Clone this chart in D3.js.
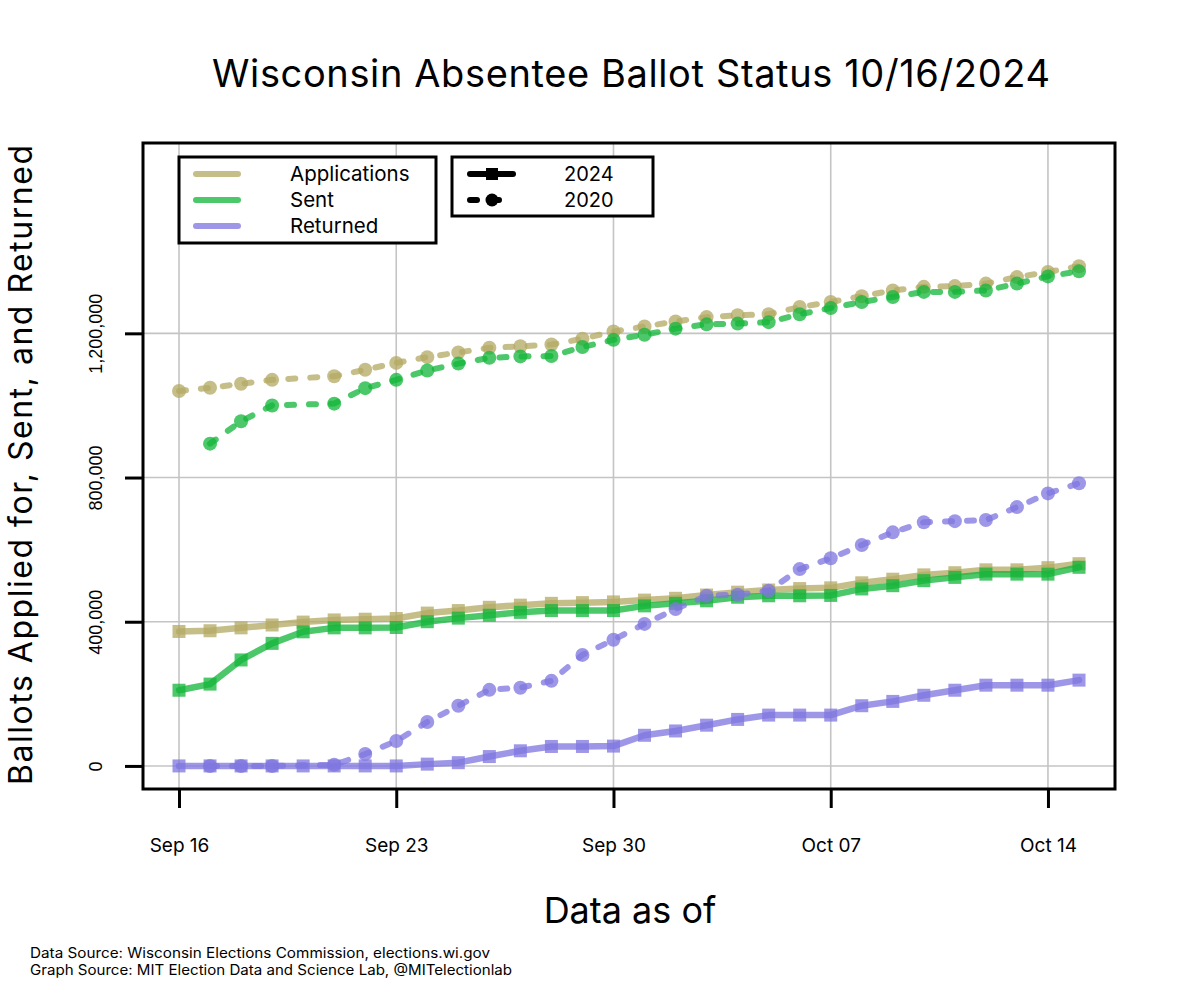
<!DOCTYPE html>
<html>
<head>
<meta charset="utf-8">
<script src="https://cdn.jsdelivr.net/npm/d3@7"></script>
<style>
  html, body { margin: 0; padding: 0; background: #fff; }
  svg { display: block; }
</style>
</head>
<body>
<script>
// ---------- DATA ----------
const dates2024 = ["2024-09-16","2024-09-17","2024-09-18","2024-09-19","2024-09-20","2024-09-21","2024-09-22","2024-09-23","2024-09-24","2024-09-25","2024-09-26","2024-09-27","2024-09-28","2024-09-29","2024-09-30","2024-10-01","2024-10-02","2024-10-03","2024-10-04","2024-10-05","2024-10-06","2024-10-07","2024-10-08","2024-10-09","2024-10-10","2024-10-11","2024-10-12","2024-10-13","2024-10-14","2024-10-15"];
const applications2024 = [373000,375000,383000,391000,399000,405000,407000,409000,424000,431000,440000,446000,451000,453000,455000,460000,465000,474000,482000,488000,492000,494000,508000,518000,530000,536000,544000,544000,550000,561000];
const sent2024 = [210000,227000,294000,340000,372000,383000,383000,384000,400000,410000,418000,426000,431000,431000,431000,444000,451000,458000,468000,472000,472000,473000,491000,500000,514000,523000,532000,532000,532000,551000];
const returned2024 = [0,0,0,0,0,0,0,0,5000,9000,26000,42000,54000,54000,55000,85000,97000,113000,129000,141000,141000,141000,167000,179000,196000,210000,224000,224000,224000,238000];

// 2020 values, aligned to the equivalent 2024 calendar day
const dates2020 = ["2024-09-16","2024-09-17","2024-09-18","2024-09-19","2024-09-21","2024-09-22","2024-09-23","2024-09-24","2024-09-25","2024-09-26","2024-09-27","2024-09-28","2024-09-29","2024-09-30","2024-10-01","2024-10-02","2024-10-03","2024-10-04","2024-10-05","2024-10-06","2024-10-07","2024-10-08","2024-10-09","2024-10-10","2024-10-11","2024-10-12","2024-10-13","2024-10-14","2024-10-15"];
const applications2020 = [1040000,1049000,1060000,1071000,1081000,1099000,1118000,1134000,1147000,1160000,1164000,1169000,1185000,1205000,1219000,1233000,1245000,1250000,1253000,1273000,1287000,1303000,1319000,1329000,1331000,1338000,1356000,1370000,1386000];
const sent2020 = [null,894000,956000,1000000,1005000,1048000,1071000,1097000,1116000,1132000,1136000,1137000,1162000,1182000,1196000,1213000,1225000,1227000,1231000,1253000,1270000,1287000,1301000,1315000,1315000,1319000,1338000,1358000,1372000];
const returned2020 = [null,0,0,0,3000,33000,69000,122000,167000,211000,217000,236000,308000,350000,394000,435000,472000,475000,486000,546000,576000,613000,648000,676000,679000,682000,718000,756000,784000];

const seriesNames = ["Applications","Sent","Returned"];
const yearNames = ["2024","2020"];
const xTickDates = ["2024-09-16","2024-09-23","2024-09-30","2024-10-07","2024-10-14"];
const xTickLabels = ["Sep 16","Sep 23","Sep 30","Oct 07","Oct 14"];
const yTicks = [0,400000,800000,1200000];
const yTickLabels = ["0","400,000","800,000","1,200,000"];

const titleText = "Wisconsin Absentee Ballot Status 10/16/2024";
const yLabel = "Ballots Applied for, Sent, and Returned";
const xLabel = "Data as of";
const sources = ["Data Source: Wisconsin Elections Commission, elections.wi.gov","Graph Source: MIT Election Data and Science Lab, @MITelectionlab"];

// ---------- STYLE ----------
const colors = {Applications: "rgb(180,170,100)", Sent: "rgb(20,182,58)", Returned: "rgb(128,118,224)"};
const alpha = 0.76;
const W = 1190, H = 1000;
const plot = {left: 143, right: 1115, top: 143, bottom: 789};

const parse = d3.utcParse("%Y-%m-%d");
const d0 = parse(dates2024[0]), d1 = parse(dates2024[dates2024.length-1]);
const pad = (d1 - d0) * 0.04;

const x = d3.scaleUtc().domain([new Date(+d0 - pad), new Date(+d1 + pad)]).range([plot.left, plot.right]);
const y = d3.scaleLinear().domain([-64000, 1728000]).range([plot.bottom, plot.top]);

const svg = d3.select("body").append("svg").attr("width", W).attr("height", H);
svg.append("rect").attr("width", W).attr("height", H).attr("fill", "#fff");

const FONT = "Inter, 'DejaVu Sans', sans-serif";

// grid
const grid = svg.append("g").attr("stroke", "#c4c4c4").attr("stroke-width", 1.6);
grid.selectAll("line.v").data(xTickDates).join("line")
  .attr("x1", d => x(parse(d))).attr("x2", d => x(parse(d)))
  .attr("y1", plot.top).attr("y2", plot.bottom);
grid.selectAll("line.h").data(yTicks).join("line")
  .attr("x1", plot.left).attr("x2", plot.right)
  .attr("y1", d => y(d)).attr("y2", d => y(d));

// series
function build(dates, vals) {
  return dates.map((d, i) => ({date: parse(d), v: vals[i]}));
}
const s2024 = {Applications: build(dates2024, applications2024), Sent: build(dates2024, sent2024), Returned: build(dates2024, returned2024)};
const s2020 = {Applications: build(dates2020, applications2020), Sent: build(dates2020, sent2020), Returned: build(dates2020, returned2020)};

const line = d3.line().defined(d => d.v != null).x(d => x(d.date)).y(d => y(d.v));
const data = svg.append("g");

seriesNames.forEach(name => {
  const g = data.append("g");
  g.append("path").datum(s2024[name]).attr("d", line)
    .attr("fill", "none").attr("stroke", colors[name]).attr("stroke-opacity", alpha)
    .attr("stroke-width", 6.5).attr("stroke-linejoin", "round").attr("stroke-linecap", "round");
  g.selectAll("rect").data(s2024[name]).join("rect")
    .attr("x", d => x(d.date) - 6.5).attr("y", d => y(d.v) - 6.5)
    .attr("width", 13).attr("height", 13)
    .attr("fill", colors[name]).attr("fill-opacity", alpha);
});
seriesNames.forEach(name => {
  const g = data.append("g");
  const pts = s2020[name].filter(d => d.v != null);
  g.append("path").datum(pts).attr("d", line)
    .attr("fill", "none").attr("stroke", colors[name]).attr("stroke-opacity", alpha)
    .attr("stroke-width", 6).attr("stroke-dasharray", "7,15").attr("stroke-linecap", "round");
  g.selectAll("circle").data(pts).join("circle")
    .attr("cx", d => x(d.date)).attr("cy", d => y(d.v)).attr("r", 7)
    .attr("fill", colors[name]).attr("fill-opacity", alpha);
});

// box
svg.append("rect").attr("x", plot.left).attr("y", plot.top)
  .attr("width", plot.right - plot.left).attr("height", plot.bottom - plot.top)
  .attr("fill", "none").attr("stroke", "#000").attr("stroke-width", 3);

// x axis
const xAxis = d3.axisBottom(x).tickValues(xTickDates.map(parse))
  .tickFormat((d, i) => xTickLabels[i]).tickSize(19).tickSizeOuter(0).tickPadding(31);
const gx = svg.append("g").attr("transform", `translate(0,${plot.bottom})`).call(xAxis);
gx.select(".domain").remove();
gx.selectAll(".tick line").attr("stroke", "#000").attr("stroke-width", 3);
gx.selectAll(".tick text").attr("font-family", FONT).attr("font-size", 19).attr("fill", "#000");

// y axis
const yAxis = d3.axisLeft(y).tickValues(yTicks).tickFormat((d, i) => yTickLabels[i]).tickSize(18).tickSizeOuter(0);
const gy = svg.append("g").attr("transform", `translate(${plot.left},0)`).call(yAxis);
gy.select(".domain").remove();
gy.selectAll(".tick line").attr("stroke", "#000").attr("stroke-width", 3);
gy.selectAll(".tick text").remove();
gy.selectAll(".tick").append("text")
  .attr("transform", "translate(-41,0) rotate(-90)")
  .attr("text-anchor", "middle")
  .attr("font-family", "'Liberation Sans', Arial, sans-serif").attr("font-size", 18).attr("fill", "#000")
  .text((d, i) => yTickLabels[i]);

// titles
svg.append("text").attr("x", 631).attr("y", 87).attr("text-anchor", "middle")
  .attr("font-family", FONT).attr("font-size", 38).attr("fill", "#000")
  .attr("textLength", 838).attr("lengthAdjust", "spacing").text(titleText);
svg.append("text").attr("transform", `translate(32,${(145 + 785) / 2}) rotate(-90)`)
  .attr("text-anchor", "middle").attr("font-family", FONT).attr("font-size", 32).attr("fill", "#000")
  .attr("textLength", 640).attr("lengthAdjust", "spacing").text(yLabel);
svg.append("text").attr("x", 630).attr("y", 923).attr("text-anchor", "middle")
  .attr("font-family", FONT).attr("font-size", 36).attr("fill", "#000").text(xLabel);
const srcLen = [460, 482];
svg.selectAll("text.src").data(sources).join("text").attr("class", "src")
  .attr("x", 30).attr("y", (d, i) => 958 + i * 17)
  .attr("font-family", FONT).attr("font-size", 14).attr("fill", "#000")
  .attr("textLength", (d, i) => srcLen[i]).attr("lengthAdjust", "spacingAndGlyphs").text(d => d);

// legend 1
const leg1 = svg.append("g");
leg1.append("rect").attr("x", 179).attr("y", 157).attr("width", 257).attr("height", 86)
  .attr("fill", "#fff").attr("stroke", "#000").attr("stroke-width", 3);
seriesNames.forEach((name, i) => {
  const yy = 174 + i * 26;
  leg1.append("line").attr("x1", 196).attr("x2", 238).attr("y1", yy).attr("y2", yy)
    .attr("stroke", colors[name]).attr("stroke-opacity", alpha).attr("stroke-width", 6).attr("stroke-linecap", "round");
  leg1.append("text").attr("x", 290).attr("y", yy + 7).attr("font-family", FONT).attr("font-size", 20.5)
    .attr("fill", "#000").text(name);
});

// legend 2
const leg2 = svg.append("g");
leg2.append("rect").attr("x", 452).attr("y", 157).attr("width", 201).attr("height", 59)
  .attr("fill", "#fff").attr("stroke", "#000").attr("stroke-width", 3);
yearNames.forEach((yr, i) => {
  const yy = 174 + i * 26;
  const ln = leg2.append("line").attr("x1", 470).attr("x2", 513).attr("y1", yy).attr("y2", yy)
    .attr("stroke", "#000").attr("stroke-width", 6).attr("stroke-linecap", "round");
  if (i === 0) {
    leg2.append("rect").attr("x", 486).attr("y", yy - 6).attr("width", 12).attr("height", 12).attr("fill", "#000");
  } else {
    ln.attr("stroke-dasharray", "7,15");
    leg2.append("circle").attr("cx", 492).attr("cy", yy).attr("r", 6.5).attr("fill", "#000");
  }
  leg2.append("text").attr("x", 564).attr("y", yy + 7).attr("font-family", FONT).attr("font-size", 20)
    .attr("fill", "#000").text(yr);
});
</script>
</body>
</html>
